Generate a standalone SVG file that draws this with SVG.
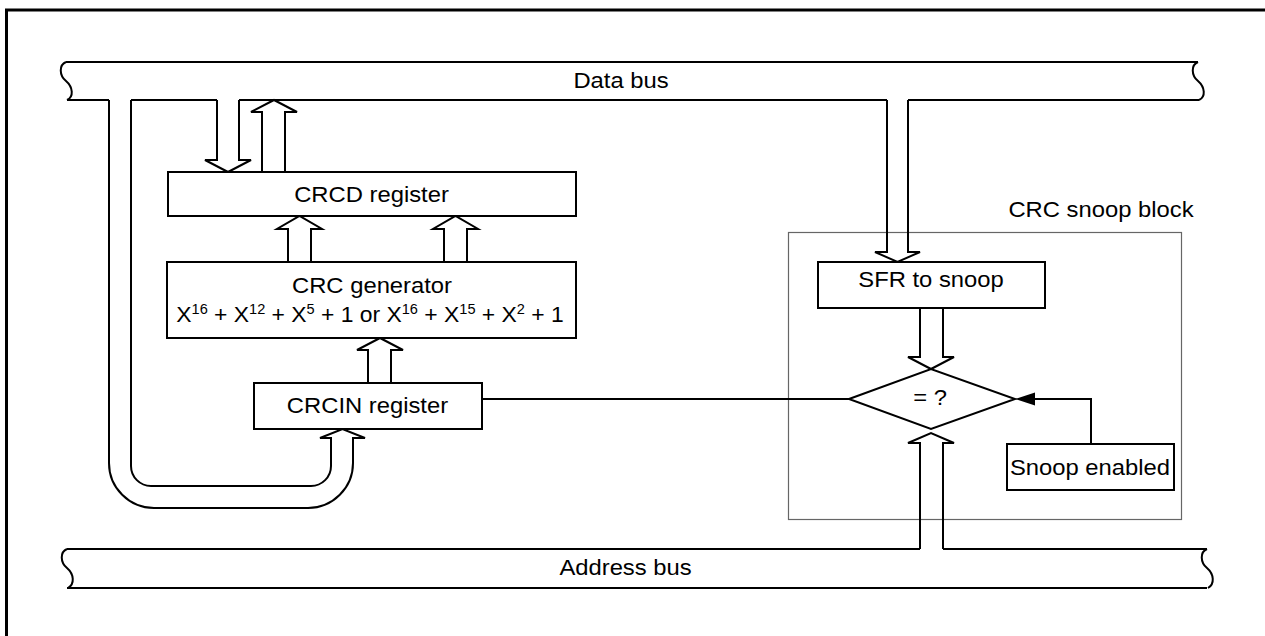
<svg xmlns="http://www.w3.org/2000/svg" width="1265" height="636" viewBox="0 0 1265 636">
<style>
.ln{fill:none;stroke:#000;stroke-width:2;stroke-linejoin:miter}
.box{fill:#fff;stroke:#000;stroke-width:2}
.t{font-family:"Liberation Sans",Arial,sans-serif;font-size:22px;fill:#000;text-anchor:middle}
.sup{font-size:14px}
</style>
<rect width="1265" height="636" fill="#fff"/>
<!-- outer frame -->
<path d="M6.5,636 V10 H1265" fill="none" stroke="#000" stroke-width="3"/>

<g id="data-bus">
<path class="ln" d="M66,62 H1198"/>
<path class="ln" d="M66,62 C59,65 59,75 66,81 C73,87 74,97 67,100"/>
<path class="ln" d="M1198,62 C1191,65 1191,75 1198,81 C1205,87 1206,97 1199,100"/>
<path class="ln" d="M67,100 H109 M131,100 H217 M239,100 H887 M908,100 H1199"/>
<g transform="translate(621,88) scale(1.082,1)"><text class="t" x="0" y="0">Data bus</text></g>
</g>

<g id="address-bus">
<path class="ln" d="M67,549 H920 M943,549 H1207"/>
<path class="ln" d="M67,588 H1207"/>
<path class="ln" d="M67,549 C60,552 60,562 67,568 C74,574 75,584 68,588"/>
<path class="ln" d="M1207,549 C1200,552 1200,562 1207,568 C1214,574 1215,584 1208,588"/>
<g transform="translate(625.5,575) scale(1.082,1)"><text class="t" x="0" y="0">Address bus</text></g>
</g>

<g id="crc-snoop-block">
<rect x="788.5" y="232.5" width="393" height="287" fill="none" stroke="#666" stroke-width="1.2"/>
<g transform="translate(1101,217) scale(1.082,1)"><text class="t" x="0" y="0">CRC snoop block</text></g>
</g>

<g id="connectors">
<!-- data bus down to CRCD -->
<path class="ln" d="M217,100 V160 H205 L228,172 L251,160 H239 V100"/>
<!-- CRCD up to data bus -->
<path class="ln" d="M262,172 V112 H251 L274,100 L297,112 H285 V172"/>
<!-- generator to CRCD -->
<path class="ln" d="M288,262 V229 H277 L299.5,216 L322,229 H311 V262"/>
<path class="ln" d="M444,262 V229 H433 L455.5,216 L478,229 H467 V262"/>
<!-- CRCIN to generator -->
<path class="ln" d="M368,383 V350 H357 L380,338 L403,350 H391 V383"/>
<!-- data bus loop to CRCIN -->
<path class="ln" d="M109,100 V463 A45,45 0 0 0 154,508 H308 A45,45 0 0 0 353,463 V438 H365 L342.5,429 L320,438 H331 V466 A20,20 0 0 1 311,486 H151 A20,20 0 0 1 131,466 V100"/>
<!-- data bus to SFR -->
<path class="ln" d="M887,100 V252 H875 L897.5,262 L920,252 H908 V100"/>
<!-- SFR to comparator -->
<path class="ln" d="M920,308 V357 H908 L931,369 L954,357 H943 V308"/>
<!-- address bus to comparator -->
<path class="ln" d="M920,549 V443 H908 L931,433 L954,443 H943 V549"/>
<!-- CRCIN to comparator -->
<path class="ln" d="M482,399 H849"/>
<!-- snoop enabled to comparator -->
<path class="ln" d="M1091,444 V399 H1035"/>
<path d="M1015,399 L1035,392.5 L1035,405.5 Z" fill="#000"/>
</g>

<g id="crcd-register">
<rect class="box" x="168" y="172" width="408" height="44"/>
<g transform="translate(371.5,201.5) scale(1.082,1)"><text class="t" x="0" y="0">CRCD register</text></g>
</g>

<g id="crc-generator">
<rect class="box" x="167" y="262" width="409" height="76"/>
<g transform="translate(372,292.5) scale(1.082,1)"><text class="t" x="0" y="0">CRC generator</text></g>
<g transform="translate(370,321.5) scale(1.04,1)"><text class="t" x="0" y="0">X<tspan class="sup" dy="-8">16</tspan><tspan dy="8"> + X</tspan><tspan class="sup" dy="-8">12</tspan><tspan dy="8"> + X</tspan><tspan class="sup" dy="-8">5</tspan><tspan dy="8"> + 1 or X</tspan><tspan class="sup" dy="-8">16</tspan><tspan dy="8"> + X</tspan><tspan class="sup" dy="-8">15</tspan><tspan dy="8"> + X</tspan><tspan class="sup" dy="-8">2</tspan><tspan dy="8"> + 1</tspan></text></g>
</g>

<g id="crcin-register">
<rect class="box" x="254" y="383" width="228" height="46"/>
<g transform="translate(367.5,413) scale(1.082,1)"><text class="t" x="0" y="0">CRCIN register</text></g>
</g>

<g id="sfr-to-snoop">
<rect class="box" x="818" y="262" width="227" height="46"/>
<g transform="translate(931,287) scale(1.082,1)"><text class="t" x="0" y="0">SFR to snoop</text></g>
</g>

<g id="comparator">
<path class="box" d="M849,399 L931,369 L1015,399 L931,429 Z"/>
<g transform="translate(930,405) scale(1.082,1)"><text class="t" x="0" y="0">= ?</text></g>
</g>

<g id="snoop-enabled">
<rect class="box" x="1007" y="444" width="167" height="46"/>
<g transform="translate(1090,475) scale(1.082,1)"><text class="t" x="0" y="0">Snoop enabled</text></g>
</g>
</svg>
